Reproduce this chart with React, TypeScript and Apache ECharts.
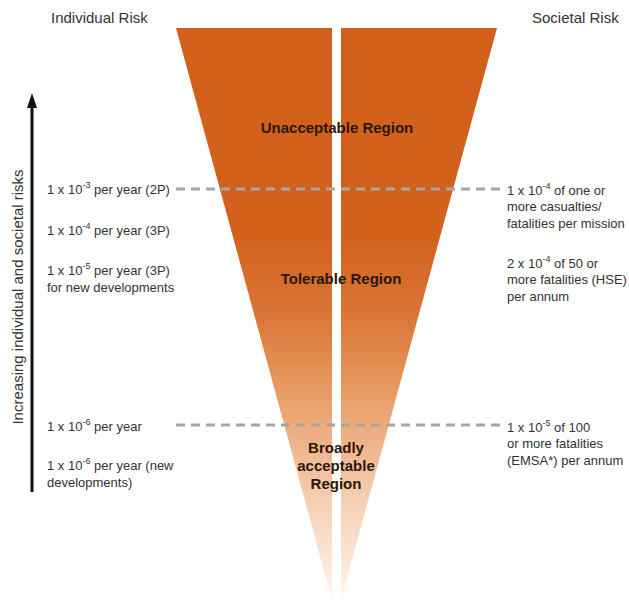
import React, { useEffect, useRef } from "react";
import * as echarts from "echarts";

// ---------- data ----------
const titles = ["Individual Risk", "Societal Risk"];
const axisCaption = "Increasing individual and societal risks";

const regionLabels = ["Unacceptable Region", "Tolerable Region", "Broadly\nacceptable\nRegion"];

const individualRisk = [
  "1 x 10^{-3} per year (2P)",
  "1 x 10^{-4} per year (3P)",
  "1 x 10^{-5} per year (3P)\nfor new developments",
  "1 x 10^{-6} per year",
  "1 x 10^{-6} per year (new\ndevelopments)",
];

const societalRisk = [
  "1 x 10^{-4} of one or\nmore casualties/\nfatalities per mission",
  "2 x 10^{-4} of 50 or\nmore fatalities (HSE)\nper annum",
  "1 x 10^{-5} of 100\nor more fatalities\n(EMSA*) per annum",
];

// funnel halves: [top-left x, top-right x, tip x]
const funnelHalves = [
  [176, 332, 332],
  [341, 497, 341],
];
const funnelTopY = 28;
const funnelTipY = 600;

// threshold (dashed) levels
const thresholdLevels = [189, 425];

// ---------- layout ----------
const W = 629;
const H = 605;
const FONT = "Arial, 'Liberation Sans', Helvetica, sans-serif";
const TEXT = "#333333";
const thresholdSpan = [176, 500];
const arrowX = 32;
const arrowFromY = 492;
const arrowToY = 93;
const individualY = [189, 230, 270, 426, 465];
const societalY = [190, 263, 427];
const regionPos = [
  [337, 127],
  [341, 278],
  [336, 447],
];

const gradientStops = [
  { offset: 0, color: "#D25F1A" },
  { offset: 0.36, color: "#D3611C" },
  { offset: 0.5, color: "#DA7536" },
  { offset: 0.62, color: "#E7975F" },
  { offset: 0.7, color: "#EEAC7F" },
  { offset: 0.83, color: "#F6D0B4" },
  { offset: 1, color: "#FEF6F0" },
];

function toRich(text: string): string {
  return text
    .split("\n")
    .map((line) => {
      const parts = line.split(/\^\{([^}]*)\}/);
      let out = "";
      parts.forEach((p, i) => {
        if (p === "") return;
        out += i % 2 === 1 ? `{s|${p}}` : `{n|${p}}`;
      });
      return out;
    })
    .join("\n");
}

const richStyle = (lh: number) => ({
  n: { fontSize: 13, lineHeight: lh, fill: TEXT, fontFamily: FONT },
  s: { fontSize: 9, lineHeight: 8, verticalAlign: "top", fill: TEXT, fontFamily: FONT },
});

export default function App() {
  const ref = useRef<HTMLDivElement>(null);

  useEffect(() => {
    if (!ref.current) return;
    const chart = echarts.init(ref.current, undefined, { renderer: "svg" });

    const graphics: any[] = [];
    // titles
    graphics.push({
      type: "text",
      x: 51,
      y: 17,
      style: { text: titles[0], font: `15px ${FONT}`, fill: TEXT, verticalAlign: "middle" },
    });
    graphics.push({
      type: "text",
      x: 532,
      y: 17,
      style: { text: titles[1], font: `15px ${FONT}`, fill: TEXT, verticalAlign: "middle" },
    });
    // rotated caption
    graphics.push({
      type: "text",
      x: 17,
      y: 297,
      rotation: Math.PI / 2,
      style: {
        text: axisCaption,
        font: `15px ${FONT}`,
        fill: TEXT,
        align: "center",
        verticalAlign: "middle",
      },
    });
    individualRisk.forEach((t, i) => {
      graphics.push({
        type: "text",
        x: 47,
        y: individualY[i] - 8.5,
        z: 10,
        style: { text: toRich(t), rich: richStyle(17), verticalAlign: "top", align: "left" },
      });
    });
    societalRisk.forEach((t, i) => {
      graphics.push({
        type: "text",
        x: 507,
        y: societalY[i] - 8.25,
        z: 10,
        style: { text: toRich(t), rich: richStyle(16.5), verticalAlign: "top", align: "left" },
      });
    });
    regionLabels.forEach((t, i) => {
      const lines = t.split("\n").length;
      graphics.push({
        type: "text",
        x: regionPos[i][0],
        y: regionPos[i][1] - 9,
        z: 10,
        style: {
          text: t,
          font: `bold 15px ${FONT}`,
          fill: "#2A170C",
          align: "center",
          verticalAlign: "top",
          lineHeight: 18,
        },
      });
    });

    const option: any = {
      animation: false,
      grid: { left: 0, right: 0, top: 0, bottom: 0 },
      xAxis: { type: "value", min: 0, max: W, show: false },
      yAxis: { type: "value", min: 0, max: H, inverse: true, show: false },
      series: [
        {
          type: "custom",
          silent: true,
          data: funnelHalves,
          renderItem: (params: any, api: any) => {
            const xl = api.value(0);
            const xr = api.value(1);
            const xt = api.value(2);
            const pts = [
              api.coord([xl, funnelTopY]),
              api.coord([xr, funnelTopY]),
              api.coord([xt, funnelTipY]),
            ];
            return {
              type: "polygon",
              shape: { points: pts },
              style: { fill: new echarts.graphic.LinearGradient(0, 0, 0, 1, gradientStops) },
            };
          },
        },
        ...thresholdLevels.map((y) => ({
          type: "line",
          silent: true,
          symbol: "none",
          data: [
            [thresholdSpan[0], y],
            [thresholdSpan[1], y],
          ],
          lineStyle: { color: "#A6A6A6", width: 3, type: [9, 6], cap: "butt" },
        })),
        {
          type: "custom",
          silent: true,
          data: [[arrowX, arrowFromY, arrowToY]],
          renderItem: (params: any, api: any) => {
            const x = api.value(0);
            const from = api.coord([x, api.value(1)]);
            const to = api.coord([x, api.value(2)]);
            const headLen = 15;
            const headHalf = 5;
            return {
              type: "group",
              children: [
                {
                  type: "line",
                  shape: { x1: from[0], y1: from[1], x2: to[0], y2: to[1] + headLen - 1 },
                  style: { stroke: "#111111", lineWidth: 3 },
                },
                {
                  type: "polygon",
                  shape: {
                    points: [
                      [to[0], to[1]],
                      [to[0] - headHalf, to[1] + headLen],
                      [to[0] + headHalf, to[1] + headLen],
                    ],
                  },
                  style: { fill: "#111111" },
                },
              ],
            };
          },
        },
      ],
      graphic: graphics,
    };

    chart.setOption(option);
    return () => chart.dispose();
  }, []);

  return (
    <div
      ref={ref}
      style={{ position: "fixed", left: 0, top: 0, width: W, height: H, background: "#ffffff" }}
    />
  );
}
